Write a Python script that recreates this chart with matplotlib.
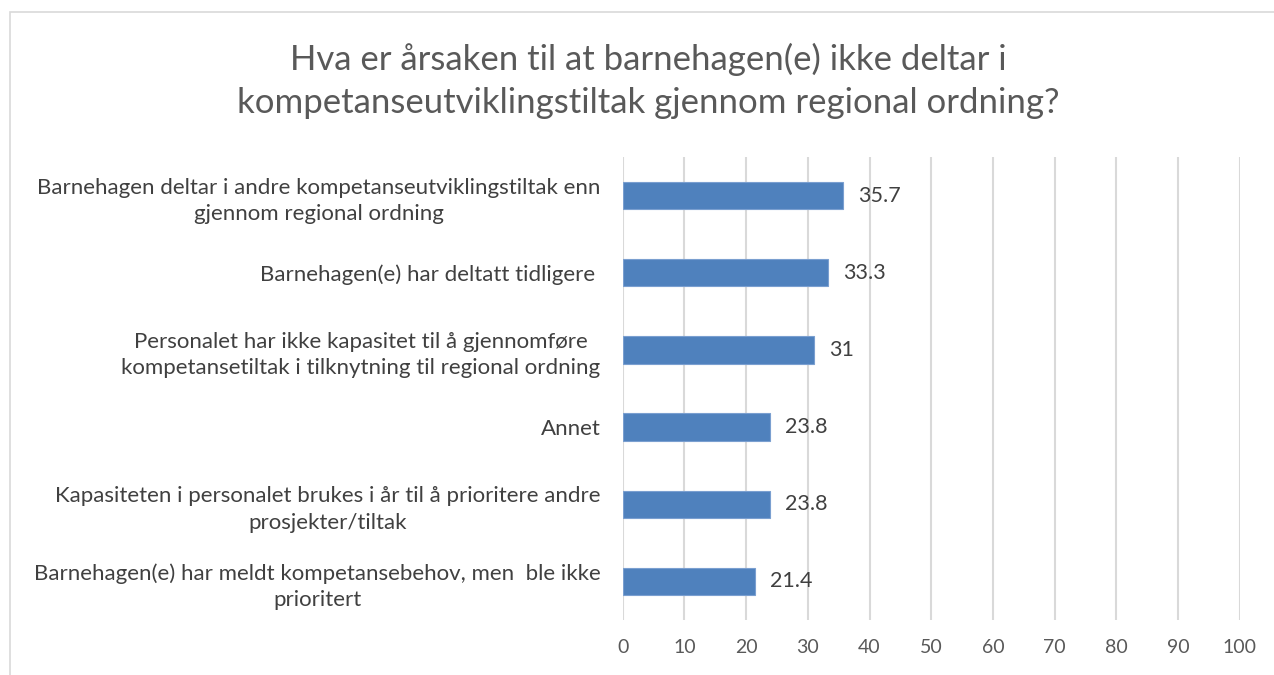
import matplotlib.pyplot as plt
from matplotlib.patches import Rectangle

plt.rcParams['font.family'] = ['Lato', 'DejaVu Sans']

# Svar, fra topp til bunn
categories = [
    "Barnehagen deltar i andre kompetanseutviklingstiltak enn\ngjennom regional ordning",
    "Barnehagen(e) har deltatt tidligere ",
    "Personalet har ikke kapasitet til å gjennomføre\nkompetansetiltak i tilknytning til regional ordning",
    "Annet",
    "Kapasiteten i personalet brukes i år til å prioritere andre\nprosjekter/tiltak",
    "Barnehagen(e) har meldt kompetansebehov, men  ble ikke\nprioritert",
]
values = [35.7, 33.3, 31, 23.8, 23.8, 21.4]
value_labels = ["35.7", "33.3", "31", "23.8", "23.8", "21.4"]
xticks = [0, 10, 20, 30, 40, 50, 60, 70, 80, 90, 100]

title = ("Hva er årsaken til at barnehagen(e) ikke deltar i\n"
         "kompetanseutviklingstiltak gjennom regional ordning?")

fig = plt.figure(figsize=(12.74, 6.75), dpi=100)
ax = fig.add_axes([0.4888, 0.0815, 0.9731 - 0.4888, 0.7674 - 0.0815])

pos = list(range(len(categories)))
ax.barh(pos, values, height=0.356, color="#4F81BD", edgecolor="#7A9FD0",
        linewidth=0.8, zorder=3)
for y, v, lab in zip(pos, values, value_labels):
    ax.annotate(lab, (v, y), xytext=(11, 0), textcoords="offset points",
                va="center", ha="left", fontsize=15.5, color="#404040")

ax.set_xlim(0, 100)
ax.set_ylim(len(categories) - 0.5, -0.5)
ax.set_xticks(xticks)
ax.set_yticks(pos)
ax.set_yticklabels(categories, fontsize=16, color="#404040",
                   multialignment="center", linespacing=1.4)
ax.tick_params(axis="x", length=0, pad=14, labelsize=14, labelcolor="#595959")
ax.tick_params(axis="y", length=0, pad=16)
ax.xaxis.grid(True, color="#D9D9D9", linewidth=1.5, zorder=0)
ax.set_axisbelow(True)
for s in ax.spines.values():
    s.set_visible(False)

fig.text(0.509, 0.88, title, ha="center", va="center", fontsize=25,
         color="#595959", linespacing=1.42)

# grå ramme rundt diagrammet
fig.patches.append(Rectangle((10 / 1274, -0.1), 1.2, 1 - 12 / 675 + 0.1,
                             transform=fig.transFigure, fill=False,
                             edgecolor="#D9D9D9", linewidth=1.2))

fig.savefig("out.png", dpi=100)
